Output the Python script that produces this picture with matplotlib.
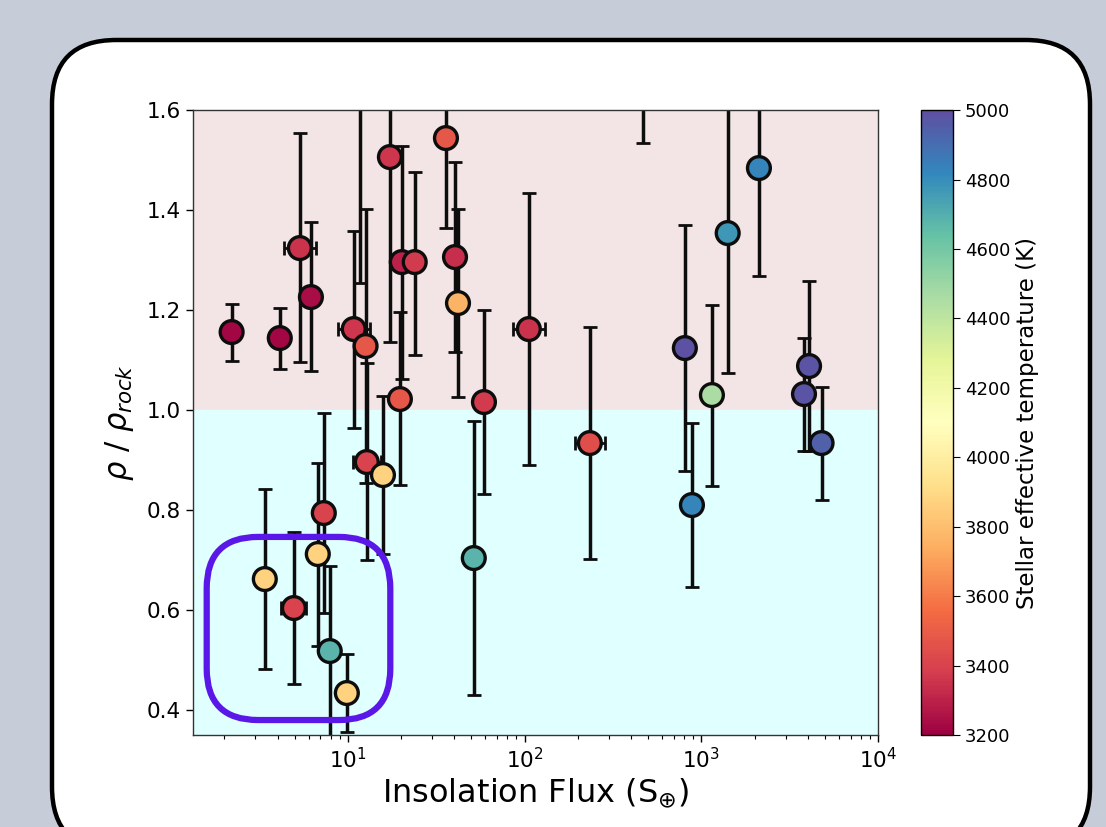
import numpy as np
import matplotlib
matplotlib.use("Agg")
import matplotlib.pyplot as plt
from matplotlib.patches import FancyBboxPatch
from matplotlib.colors import Normalize
from matplotlib.cm import ScalarMappable

# Planets: insolation flux (S_earth), density relative to
# a pure rock composition, asymmetric errors, and host-star Teff (K).
insolation = [2.2, 4.12, 5.35, 6.18, 10.8, 12.6, 11.7, 17.3, 20.2, 23.9,
              19.7, 35.9, 40.4, 42.0, 58.9, 105.7, 234, 469, 807, 885,
              1148, 1410, 2118, 4070, 3810, 4790, 12.8, 15.8, 51.6, 3.39,
              4.95, 7.31, 6.76, 7.9, 9.87]
insolation_err_dex = [0, 0, 0.09, 0, 0.09, 0, 0, 0, 0, 0,
                      0, 0, 0, 0, 0, 0.09, 0.085, 0, 0, 0,
                      0, 0, 0, 0, 0, 0, 0.08, 0, 0, 0,
                      0.07, 0, 0, 0, 0]
density_ratio = [1.156, 1.144, 1.324, 1.226, 1.162, 1.128, 1.75, 1.506, 1.296, 1.296,
                 1.022, 1.544, 1.306, 1.214, 1.016, 1.162, 0.934, 1.70, 1.124, 0.810,
                 1.030, 1.354, 1.484, 1.088, 1.032, 0.934, 0.896, 0.870, 0.704, 0.662,
                 0.604, 0.794, 0.712, 0.518, 0.434]
density_err_up = [0.057, 0.060, 0.230, 0.150, 0.196, 0.274, 0.50, 0.350, 0.232, 0.180,
                  0.174, 0.300, 0.190, 0.188, 0.184, 0.272, 0.232, 0.17, 0.246, 0.164,
                  0.181, 0.280, 0.216, 0.170, 0.113, 0.113, 0.198, 0.158, 0.274, 0.180,
                  0.152, 0.200, 0.183, 0.170, 0.078]
density_err_low = [0.057, 0.062, 0.228, 0.148, 0.198, 0.274, 0.496, 0.370, 0.234, 0.186,
                   0.172, 0.180, 0.190, 0.188, 0.184, 0.272, 0.232, 0.166, 0.246, 0.164,
                   0.181, 0.280, 0.216, 0.170, 0.113, 0.113, 0.196, 0.158, 0.274, 0.180,
                   0.152, 0.200, 0.183, 0.170, 0.078]
teff = [3220, 3220, 3350, 3240, 3360, 3480, 3350, 3360, 3300, 3370,
        3480, 3480, 3340, 3760, 3370, 3350, 3440, 3400, 4990, 4830,
        4460, 4770, 4830, 4980, 4980, 4940, 3400, 3870, 4680, 3870,
        3400, 3400, 3870, 4680, 3870]

TEFF_MIN, TEFF_MAX = 3200, 5000
XLIM = (1.33, 1e4)
YLIM = (0.35, 1.6)
ROCK_LINE = 1.0

fig = plt.figure(figsize=(11.06, 8.27), dpi=100)
fig.patch.set_facecolor("#c6cdd8")

# white rounded card behind the plot
card = FancyBboxPatch((52 / 1106, -24 / 827), 1038 / 1106, 811 / 827,
                      boxstyle="round,pad=0,rounding_size=0.058",
                      mutation_aspect=1106 / 827,
                      transform=fig.transFigure, facecolor="white",
                      edgecolor="black", linewidth=3.2, zorder=-5)
fig.patches.append(card)

ax = fig.add_axes([0.1745, 0.1112, 0.6194, 0.7557])
cax = fig.add_axes([0.8327, 0.1112, 0.0289, 0.7557])
ax.set_zorder(2)
cax.set_zorder(2)
ax.set_facecolor("none")

ax.axhspan(ROCK_LINE, YLIM[1], color="#f3e5e5", zorder=0)
ax.axhspan(YLIM[0], ROCK_LINE, color="#e0ffff", zorder=0)

cmap = plt.get_cmap("Spectral")
norm = Normalize(vmin=TEFF_MIN, vmax=TEFF_MAX)

x = np.array(insolation)
dex = np.array(insolation_err_dex)
xerr = np.vstack([x - x / 10 ** dex, x * 10 ** dex - x])
yerr = np.vstack([density_err_low, density_err_up])

ax.errorbar(x, density_ratio, yerr=yerr, fmt="none", ecolor="#0d0d0d",
            elinewidth=2.5, capsize=4.8, capthick=2.0, zorder=2)
has_xerr = dex > 0
ax.errorbar(x[has_xerr], np.array(density_ratio)[has_xerr],
            xerr=xerr[:, has_xerr], fmt="none", ecolor="#0d0d0d",
            elinewidth=2.0, capsize=4.8, capthick=2.0, zorder=2)
ax.scatter(x, density_ratio, c=teff, cmap=cmap, norm=norm, s=270,
           edgecolors="#0d0d0d", linewidths=2.4, zorder=3)

ax.set_xscale("log")
ax.set_xlim(*XLIM)
ax.set_ylim(*YLIM)
ax.set_yticks([0.4, 0.6, 0.8, 1.0, 1.2, 1.4, 1.6])
ax.tick_params(labelsize=15.5, length=5, width=1)
ax.tick_params(which="minor", length=3, width=0.8)
for spine in ax.spines.values():
    spine.set_linewidth(1.0)
    spine.set_color("#333333")

ax.set_xlabel(r"Insolation Flux (S$_{\oplus}$)", fontsize=23, labelpad=3)
ax.set_ylabel(r"$\rho$ / $\rho_{rock}$", fontsize=22, labelpad=8)

# highlight box around the low-flux, low-density planets
highlight = FancyBboxPatch((0.020, 0.024), 0.268, 0.293,
                           boxstyle="round,pad=0,rounding_size=0.075",
                           mutation_aspect=685 / 625,
                           transform=ax.transAxes, facecolor="none",
                           edgecolor="#5a18e8", linewidth=4.5, zorder=4)
ax.add_patch(highlight)

sm = ScalarMappable(norm=norm, cmap=cmap)
cbar = fig.colorbar(sm, cax=cax, ticks=np.arange(TEFF_MIN, TEFF_MAX + 1, 200))
cbar.ax.tick_params(labelsize=13, length=5)
cbar.outline.set_linewidth(1.0)
cbar.set_label("Stellar effective temperature (K)", fontsize=16.5, labelpad=4)

fig.savefig("out.png", dpi=100, facecolor=fig.get_facecolor())
